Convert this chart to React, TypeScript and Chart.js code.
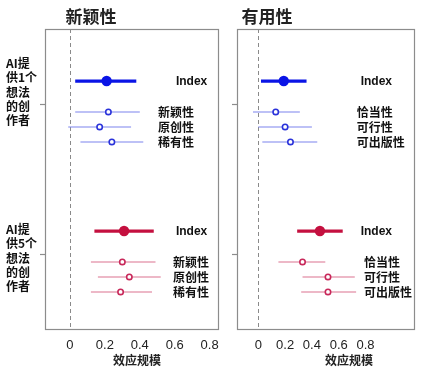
import React, { useEffect, useRef } from "react";
import { Chart, registerables } from "chart.js";

Chart.register(...registerables);

// ---- data ----
const groupLabels = ["AI提供1个想法的创作者", "AI提供5个想法的创作者"];
const groupLines = [
  ["AI提", "供1个", "想法", "的创", "作者"],
  ["AI提", "供5个", "想法", "的创", "作者"],
];
const xTicks = [0, 0.2, 0.4, 0.6, 0.8];

const noveltyTitle = "新颖性";
const noveltyItems = ["Index", "新颖性", "原创性", "稀有性"];
const novEst1 = [0.21, 0.22, 0.17, 0.24];
const novLo1 = [0.03, 0.03, -0.01, 0.06];
const novHi1 = [0.38, 0.4, 0.35, 0.42];
const novEst5 = [0.31, 0.3, 0.34, 0.29];
const novLo5 = [0.14, 0.12, 0.16, 0.12];
const novHi5 = [0.48, 0.49, 0.52, 0.47];

const usefulTitle = "有用性";
const usefulItems = ["Index", "恰当性", "可行性", "可出版性"];
const useEst1 = [0.19, 0.13, 0.2, 0.24];
const useLo1 = [0.02, -0.04, 0.0, 0.03];
const useHi1 = [0.36, 0.31, 0.4, 0.44];
const useEst5 = [0.46, 0.33, 0.52, 0.52];
const useLo5 = [0.29, 0.15, 0.33, 0.32];
const useHi5 = [0.63, 0.5, 0.72, 0.73];

const xTitle = "效应规模";

// ---- styling ----
const rowOffsets = [-0.153, 0.053, 0.153, 0.253];
const groupLabelShift = [-12, 4];
const colors = [
  { main: "#0a14e6", light: "#7c84ee", pt: "#2a32da" },
  { main: "#c4103f", light: "#dc7290", pt: "#c8285a" },
];
const CJK = '"Noto Sans CJK SC", sans-serif';
const LAT = '"Liberation Sans", Arial, sans-serif';

type Panel = {
  title: string;
  items: string[];
  est: number[][];
  lo: number[][];
  hi: number[][];
  xmin: number;
  xmax: number;
  idxLabelX: number;
  subLabelX: number[];
  showYLabels: boolean;
  yWidth: number;
  padLeft: number;
  padRight: number;
  titleX: number;
  xTitleX: number;
};

const panels: Panel[] = [
  {
    title: noveltyTitle,
    items: noveltyItems,
    est: [novEst1, novEst5],
    lo: [novLo1, novLo5],
    hi: [novHi1, novHi5],
    xmin: -0.143,
    xmax: 0.848,
    idxLabelX: 0.607,
    subLabelX: [0.504, 0.59],
    showYLabels: true,
    yWidth: 45,
    padLeft: 0,
    padRight: 8,
    titleX: 91,
    xTitleX: 137,
  },
  {
    title: usefulTitle,
    items: usefulItems,
    est: [useEst1, useEst5],
    lo: [useLo1, useLo5],
    hi: [useHi1, useHi5],
    xmin: -0.159,
    xmax: 1.162,
    idxLabelX: 0.764,
    subLabelX: [0.734, 0.789],
    showYLabels: false,
    yWidth: 11,
    padLeft: 0,
    padRight: 21,
    titleX: 41,
    xTitleX: 123,
  },
];

function buildDatasets(p: Panel) {
  const ds: any[] = [];
  p.est.forEach((est, g) => {
    est.forEach((v, i) => {
      const y = g + 1 + rowOffsets[i];
      const isIdx = i === 0;
      ds.push({
        type: "scatter",
        showLine: true,
        data: [
          { x: p.lo[g][i], y },
          { x: p.hi[g][i], y },
        ],
        borderColor: isIdx ? colors[g].main : colors[g].light,
        borderWidth: isIdx ? 3.2 : 1.1,
        pointRadius: 0,
        order: 2,
      });
      ds.push({
        type: "scatter",
        data: [{ x: v, y }],
        pointRadius: isIdx ? 5.2 : 2.7,
        pointBorderWidth: isIdx ? 0 : 1.6,
        pointBackgroundColor: isIdx ? colors[g].main : "#ffffff",
        pointBorderColor: isIdx ? colors[g].main : colors[g].pt,
        order: 1,
      });
    });
  });
  return ds;
}

function makeDecor(p: Panel) {
  return {
    id: "decor",
    beforeDatasetsDraw(chart: any) {
      const { ctx, chartArea: a, scales } = chart;
      const x0 = scales.x.getPixelForValue(0);
      ctx.save();
      ctx.strokeStyle = "#8a8a8a";
      ctx.lineWidth = 1;
      ctx.setLineDash([4, 3]);
      ctx.beginPath();
      ctx.moveTo(Math.round(x0) + 0.5, a.top);
      ctx.lineTo(Math.round(x0) + 0.5, a.bottom);
      ctx.stroke();
      ctx.restore();
    },
    afterDraw(chart: any) {
      const { ctx, chartArea: a, scales } = chart;
      ctx.save();
      ctx.strokeStyle = "#8c8c8c";
      ctx.lineWidth = 1.2;
      ctx.strokeRect(Math.round(a.left) + 0.5, Math.round(a.top) + 0.5, Math.round(a.right - a.left), Math.round(a.bottom - a.top));
      // y tick marks
      groupLabels.forEach((_, g) => {
        const y = Math.round(scales.y.getPixelForValue(g + 1)) + 0.5;
        ctx.beginPath();
        ctx.moveTo(a.left - 5, y);
        ctx.lineTo(a.left, y);
        ctx.stroke();
      });
      // group labels
      if (p.showYLabels) {
        ctx.fillStyle = "#111";
        ctx.font = `bold 12px ${CJK}`;
        ctx.textAlign = "left";
        ctx.textBaseline = "middle";
        groupLines.forEach((lines, g) => {
          const cy = scales.y.getPixelForValue(g + 1) + groupLabelShift[g];
          const lh = 14.2;
          lines.forEach((ln, k) => {
            ctx.fillText(ln, 6, cy + (k - (lines.length - 1) / 2) * lh);
          });
        });
      }
      // panel title
      ctx.fillStyle = "#222";
      ctx.font = `bold 17px ${CJK}`;
      ctx.textAlign = "center";
      ctx.textBaseline = "middle";
      ctx.fillText(p.title, p.titleX, 17);
      // x title
      ctx.font = `bold 12px ${CJK}`;
      ctx.fillText(xTitle, p.xTitleX, 360);
      // row labels
      ctx.textAlign = "left";
      ctx.fillStyle = "#111";
      p.est.forEach((_, g) => {
        p.items.forEach((lab, i) => {
          const y = scales.y.getPixelForValue(g + 1 + rowOffsets[i]);
          const xv = i === 0 ? p.idxLabelX : p.subLabelX[g];
          const x = scales.x.getPixelForValue(xv);
          ctx.font = i === 0 ? `bold 12px ${LAT}` : `bold 12px ${CJK}`;
          ctx.fillText(lab, x, y + 0.5);
        });
      });
      ctx.restore();
    },
  };
}

function PanelChart({ p, left, width }: { p: Panel; left: number; width: number }) {
  const ref = useRef<HTMLCanvasElement>(null);
  useEffect(() => {
    if (!ref.current) return;
    const chart = new Chart(ref.current, {
      type: "scatter",
      data: { datasets: buildDatasets(p) },
      options: {
        animation: false,
        responsive: false,
        maintainAspectRatio: false,
        layout: { padding: { top: 29, left: p.padLeft, right: p.padRight, bottom: 0 } },
        plugins: { legend: { display: false }, tooltip: { enabled: false }, title: { display: false } },
        scales: {
          x: {
            type: "linear",
            min: p.xmin,
            max: p.xmax,
            afterBuildTicks: (s: any) => {
              s.ticks = xTicks.map((v) => ({ value: v }));
            },
            afterFit: (s: any) => {
              s.height = 42;
            },
            grid: { display: false },
            border: { display: false },
            ticks: {
              padding: 1,
              color: "#222",
              font: { family: LAT, size: 13 },
              maxRotation: 0,
              autoSkip: false,
              callback: (v: any) => (v === 0 ? "0" : String(Math.round(v * 10) / 10)),
            },
          },
          y: {
            type: "linear",
            reverse: true,
            min: 0.5,
            max: 2.5,
            afterBuildTicks: (s: any) => {
              s.ticks = groupLabels.map((_, i) => ({ value: i + 1 }));
            },
            afterFit: (s: any) => {
              s.width = p.yWidth;
            },
            grid: { display: false },
            border: { display: false },
            ticks: {
              display: true,
              autoSkip: false,
              callback: () => "",
            },
          },
        },
      } as any,
      plugins: [makeDecor(p)],
    });
    return () => chart.destroy();
  }, [p]);
  return (
    <canvas
      ref={ref}
      width={width}
      height={371}
      style={{ position: "absolute", left, top: 0, width, height: 371 }}
    />
  );
}

export default function App() {
  return (
    <div style={{ position: "fixed", left: 0, top: 0, width: 435, height: 371, background: "#fff" }}>
      <PanelChart p={panels[0]} left={0} width={226} />
      <PanelChart p={panels[1]} left={226} width={209} />
    </div>
  );
}
